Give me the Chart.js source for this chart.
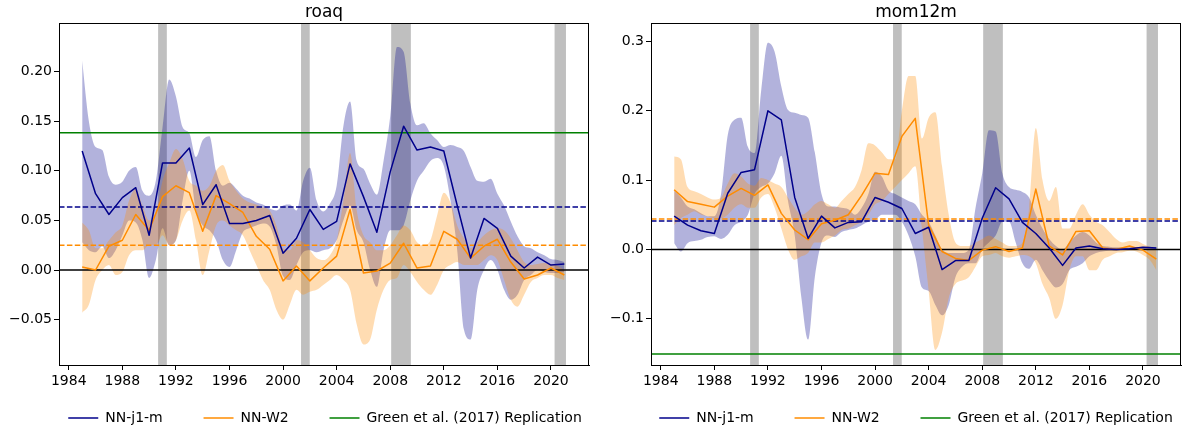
<!DOCTYPE html>
<html>
<head>
    <title>roaq and mom12m</title>
    <script src="https://cdn.jsdelivr.net/npm/chart.js"></script>
    <style>
        body {
            margin: 0;
            background-color: #ffffff;
            overflow: hidden;
        }
        .page {
            position: relative;
            width: 1184px;
            height: 432px;
            overflow: hidden;
        }
        .panel {
            position: absolute;
            top: 0;
            height: 432px;
        }
    </style>
</head>
<body>
    <div class="page">
        <div class="panel" style="left: 0px;"><canvas id="roaqChart" width="650" height="432"></canvas></div>
        <div class="panel" style="left: 592px;"><canvas id="momChart" width="648" height="432"></canvas></div>
    </div>

    <script>
        // yearly points of the two model lines
        const years = [1985, 1986, 1987, 1988, 1989, 1990, 1991, 1992, 1993, 1994,
            1995, 1996, 1997, 1998, 1999, 2000, 2001, 2002, 2003, 2004,
            2005, 2006, 2007, 2008, 2009, 2010, 2011, 2012, 2013, 2014,
            2015, 2016, 2017, 2018, 2019, 2020, 2021];

        // half-year points of the shaded bands
        const bandYears = [1985, 1985.5, 1986, 1986.5, 1987, 1987.5, 1988, 1988.5, 1989, 1989.5,
            1990, 1990.5, 1991, 1991.5, 1992, 1992.5, 1993, 1993.5, 1994, 1994.5,
            1995, 1995.5, 1996, 1996.5, 1997, 1997.5, 1998, 1998.5, 1999, 1999.5,
            2000, 2000.5, 2001, 2001.5, 2002, 2002.5, 2003, 2003.5, 2004, 2004.5,
            2005, 2005.5, 2006, 2006.5, 2007, 2007.5, 2008, 2008.5, 2009, 2009.5,
            2010, 2010.5, 2011, 2011.5, 2012, 2012.5, 2013, 2013.5, 2014, 2014.5,
            2015, 2015.5, 2016, 2016.5, 2017, 2017.5, 2018, 2018.5, 2019, 2019.5,
            2020, 2020.5, 2021];

        const xTicks = [1984, 1988, 1992, 1996, 2000, 2004, 2008, 2012, 2016, 2020];
        const X_MIN = 1983.27;
        const X_MAX = 2022.84;

        // recession periods (grey bars)
        const recessionStart = [1990.67, 2001.34, 2008.07, 2020.27];
        const recessionEnd = [1991.32, 2001.99, 2009.54, 2021.12];

        // ---- roaq ----
        const roaqJ1 = [0.120, 0.077, 0.056, 0.073, 0.083, 0.035, 0.108, 0.108, 0.123, 0.066,
            0.086, 0.047, 0.047, 0.050, 0.055, 0.017, 0.032, 0.061, 0.041, 0.049,
            0.107, 0.074, 0.038, 0.099, 0.145, 0.121, 0.124, 0.120, 0.065, 0.012,
            0.052, 0.042, 0.014, 0.002, 0.013, 0.005, 0.006];
        const roaqW2 = [0.003, 0.000, 0.024, 0.030, 0.056, 0.040, 0.074, 0.085, 0.078, 0.039,
            0.075, 0.067, 0.058, 0.034, 0.021, -0.011, 0.004, -0.011, 0.002, 0.014,
            0.061, -0.003, -0.001, 0.007, 0.027, 0.002, 0.004, 0.039, 0.031, 0.012,
            0.024, 0.031, 0.008, -0.009, -0.005, 0.002, -0.005];
        const roaqJ1Upper = [0.211, 0.150, 0.124, 0.121, 0.094, 0.086, 0.089, 0.100, 0.104, 0.080,
            0.075, 0.090, 0.144, 0.192, 0.175, 0.144, 0.138, 0.114, 0.131, 0.135,
            0.100, 0.085, 0.088, 0.082, 0.075, 0.072, 0.068, 0.066, 0.062, 0.060,
            0.065, 0.066, 0.060, 0.090, 0.103, 0.070, 0.059, 0.067, 0.085, 0.145,
            0.170, 0.110, 0.102, 0.087, 0.076, 0.110, 0.155, 0.225, 0.220, 0.168,
            0.146, 0.148, 0.138, 0.131, 0.124, 0.126, 0.124, 0.120, 0.104, 0.090,
            0.089, 0.092, 0.077, 0.065, 0.049, 0.034, 0.024, 0.022, 0.018, 0.015,
            0.011, 0.010, 0.008];
        const roaqJ1Lower = [0.028, 0.020, 0.018, 0.024, 0.012, 0.020, 0.035, 0.050, 0.048, 0.030,
            -0.008, 0.010, 0.042, 0.025, 0.030, 0.070, 0.100, 0.060, 0.045, 0.040,
            0.030, 0.010, 0.003, 0.020, 0.038, 0.042, 0.045, 0.047, 0.044, 0.025,
            -0.006, -0.010, 0.005, 0.018, 0.020, 0.018, 0.020, 0.022, 0.030, 0.050,
            0.065, 0.040, 0.028, 0.000, -0.017, 0.020, 0.040, 0.040, 0.045, 0.070,
            0.090, 0.100, 0.110, 0.113, 0.105, 0.070, 0.020, -0.060, -0.070, -0.020,
            0.000, 0.010, 0.000, -0.020, -0.030, -0.025, -0.010, -0.005, 0.000, -0.002,
            -0.003, -0.003, -0.002];
        const roaqW2Upper = [0.048, 0.040, 0.022, 0.022, 0.030, 0.038, 0.045, 0.070, 0.082, 0.065,
            0.050, 0.058, 0.090, 0.108, 0.122, 0.112, 0.090, 0.085, 0.080, 0.085,
            0.100, 0.106, 0.090, 0.080, 0.072, 0.068, 0.066, 0.063, 0.060, 0.045,
            0.022, 0.020, 0.030, 0.028, 0.020, 0.012, 0.010, 0.015, 0.030, 0.070,
            0.118, 0.060, 0.035, 0.028, 0.020, 0.020, 0.025, 0.035, 0.045, 0.040,
            0.028, 0.025, 0.030, 0.055, 0.078, 0.068, 0.045, 0.032, 0.022, 0.028,
            0.035, 0.040, 0.042, 0.040, 0.032, 0.020, 0.008, 0.005, 0.006, 0.007,
            0.006, 0.004, 0.000];
        const roaqW2Lower = [-0.043, -0.035, -0.010, 0.000, 0.005, -0.005, -0.002, 0.015, 0.020, 0.020,
            0.025, 0.025, 0.035, 0.025, 0.030, 0.050, 0.060, 0.030, -0.005, 0.020,
            0.045, 0.050, 0.045, 0.040, 0.035, 0.020, 0.005, -0.010, -0.020, -0.040,
            -0.050, -0.035, -0.020, -0.025, -0.022, -0.020, -0.015, -0.010, -0.005, -0.010,
            -0.020, -0.055, -0.075, -0.070, -0.040, -0.020, -0.010, -0.008, 0.005, -0.002,
            -0.012, -0.020, -0.025, -0.015, 0.000, 0.005, 0.008, 0.005, 0.005, 0.005,
            0.010, 0.015, 0.010, -0.010, -0.030, -0.037, -0.025, -0.012, -0.008, -0.005,
            -0.005, -0.008, -0.010];
        const roaqYTicks = [-0.05, 0.00, 0.05, 0.10, 0.15, 0.20];

        // ---- mom12m ----
        const momJ1 = [0.048, 0.035, 0.027, 0.023, 0.081, 0.111, 0.115, 0.200, 0.187, 0.075,
            0.016, 0.048, 0.031, 0.039, 0.040, 0.075, 0.068, 0.059, 0.023, 0.032,
            -0.029, -0.016, -0.016, 0.045, 0.089, 0.073, 0.039, 0.023, 0.002, -0.023,
            0.002, 0.005, 0.001, 0.000, 0.001, 0.003, 0.002];
        const momW2 = [0.086, 0.069, 0.065, 0.061, 0.077, 0.088, 0.078, 0.093, 0.052, 0.028,
            0.014, 0.037, 0.042, 0.050, 0.078, 0.110, 0.108, 0.163, 0.189, 0.035,
            -0.003, -0.013, -0.016, -0.001, 0.004, -0.003, 0.002, 0.087, 0.005, -0.008,
            0.026, 0.027, 0.002, 0.000, 0.005, -0.001, -0.014];
        const momJ1Upper = [0.085, 0.075, 0.062, 0.058, 0.052, 0.048, 0.048, 0.080, 0.165, 0.187,
            0.190, 0.148, 0.139, 0.230, 0.298, 0.285, 0.235, 0.201, 0.197, 0.194,
            0.190, 0.140, 0.080, 0.062, 0.062, 0.060, 0.058, 0.050, 0.060, 0.080,
            0.112, 0.105, 0.085, 0.080, 0.075, 0.070, 0.065, 0.050, 0.040, 0.020,
            0.000, -0.005, -0.005, -0.005, 0.000, 0.060, 0.110, 0.172, 0.170, 0.110,
            0.090, 0.086, 0.083, 0.075, 0.050, 0.030, 0.015, 0.005, 0.000, 0.010,
            0.020, 0.025, 0.020, 0.010, 0.005, 0.004, 0.003, 0.003, 0.003, 0.003,
            0.004, 0.004, 0.003];
        const momJ1Lower = [0.009, -0.003, 0.009, 0.012, 0.014, 0.018, 0.019, 0.015, 0.021, 0.035,
            0.040, 0.050, 0.080, 0.090, 0.095, 0.110, 0.135, 0.070, 0.020, -0.070,
            -0.130, -0.040, 0.010, 0.020, 0.018, 0.025, 0.028, 0.030, 0.035, 0.040,
            0.042, 0.050, 0.050, 0.050, 0.040, 0.020, -0.010, -0.055, -0.060, -0.080,
            -0.095, -0.080, -0.040, -0.025, -0.020, -0.020, 0.000, 0.010, 0.020, 0.040,
            0.040, 0.010, -0.020, -0.028, -0.015, -0.030, -0.045, -0.055, -0.050, -0.030,
            -0.025, -0.020, -0.010, -0.005, -0.003, -0.002, -0.002, -0.001, -0.001, 0.000,
            0.000, 0.000, 0.000];
        const momW2Upper = [0.134, 0.130, 0.090, 0.084, 0.080, 0.075, 0.072, 0.075, 0.095, 0.110,
            0.105, 0.095, 0.092, 0.103, 0.100, 0.095, 0.090, 0.075, 0.060, 0.050,
            0.055, 0.065, 0.070, 0.065, 0.060, 0.070, 0.080, 0.090, 0.115, 0.153,
            0.150, 0.140, 0.130, 0.130, 0.200, 0.250, 0.250, 0.160, 0.190, 0.198,
            0.120, 0.050, 0.010, 0.005, 0.005, 0.010, 0.015, 0.020, 0.015, 0.010,
            0.005, 0.005, 0.010, 0.060, 0.175, 0.100, 0.070, 0.090, 0.030, 0.030,
            0.050, 0.065, 0.050, 0.040, 0.035, 0.025, 0.015, 0.010, 0.012, 0.012,
            0.008, 0.004, 0.000];
        const momW2Lower = [0.035, 0.045, 0.050, 0.055, 0.050, 0.048, 0.045, 0.045, 0.050, 0.060,
            0.065, 0.060, 0.060, 0.075, 0.080, 0.060, 0.030, 0.000, -0.015, -0.010,
            -0.005, 0.010, 0.010, 0.015, 0.020, 0.028, 0.030, 0.035, 0.040, 0.050,
            0.065, 0.070, 0.080, 0.090, 0.100, 0.110, 0.120, 0.030, -0.060, -0.145,
            -0.120, -0.070, -0.050, -0.045, -0.040, -0.025, -0.010, -0.008, -0.005, -0.010,
            -0.012, -0.010, -0.008, -0.010, -0.020, -0.050, -0.070, -0.100, -0.080, -0.030,
            -0.010, -0.010, -0.030, -0.030, -0.015, -0.010, -0.005, -0.004, -0.002, -0.003,
            -0.008, -0.015, -0.030];
        const momYTicks = [-0.1, 0.0, 0.1, 0.2, 0.3];

        const BLUE = '#00008b';
        const ORANGE = '#ff8c00';
        const GREEN = '#008000';

        Chart.defaults.font.family = "'DejaVu Sans', sans-serif";
        Chart.defaults.font.size = 14;
        Chart.defaults.color = '#000000';
        Chart.defaults.elements.point.radius = 0;

        function xy(xs, ys) {
            return xs.map((x, i) => ({ x: x, y: ys[i] }));
        }

        function flat(v) {
            return [{ x: X_MIN, y: v }, { x: X_MAX, y: v }];
        }

        function tickText(v, decimals) {
            const s = (Math.abs(v) < 1e-9 ? 0 : v).toFixed(decimals);
            return s.replace('-', '\u2212');
        }

        // only the three named lines go in the legend; trailing spaces widen the gaps
        function legendLabels(chart) {
            const items = Chart.defaults.plugins.legend.labels.generateLabels(chart)
                .filter(item => chart.data.datasets[item.datasetIndex].inLegend);
            items.forEach((item, i) => {
                if (i < items.length - 1) item.text += '    ';
            });
            return items;
        }

        const recessionBars = {
            id: 'recessionBars',
            beforeDatasetsDraw(chart) {
                const { ctx, chartArea, scales } = chart;
                ctx.save();
                ctx.fillStyle = 'rgba(128, 128, 128, 0.5)';
                recessionStart.forEach((start, i) => {
                    const x0 = scales.x.getPixelForValue(start);
                    const x1 = scales.x.getPixelForValue(recessionEnd[i]);
                    ctx.fillRect(x0, chartArea.top, x1 - x0, chartArea.bottom - chartArea.top);
                });
                ctx.restore();
            }
        };

        const frame = {
            id: 'frame',
            afterDraw(chart) {
                const { ctx, chartArea } = chart;
                ctx.save();
                ctx.strokeStyle = '#000000';
                ctx.lineWidth = 1;
                ctx.strokeRect(Math.round(chartArea.left) + 0.5, Math.round(chartArea.top) + 0.5,
                    Math.round(chartArea.right - chartArea.left) - 1, Math.round(chartArea.bottom - chartArea.top));
                ctx.restore();
            }
        };

        // yAxisWidth / rightSpace put the plot area where the picture has it;
        // the empty right-hand axis keeps the legend centred under the plot
        function makeChart(canvasId, p) {
            const line = { borderWidth: 1.5, borderJoinStyle: 'round', fill: false };
            const band = { borderWidth: 0, cubicInterpolationMode: 'monotone' };
            const datasets = [
                Object.assign({ label: 'NN-j1-m', data: xy(years, p.j1), borderColor: BLUE, order: 0, inLegend: true }, line),
                Object.assign({ label: 'NN-W2', data: xy(years, p.w2), borderColor: ORANGE, order: 0, inLegend: true }, line),
                Object.assign({ label: 'Green et al. (2017) Replication', data: flat(p.green), borderColor: GREEN, order: 1, inLegend: true }, line),
                Object.assign({ label: 'zero', data: flat(0), borderColor: '#000000', order: 1 }, line),
                Object.assign({ label: 'NN-j1-m mean', data: flat(p.j1Mean), borderColor: BLUE, borderDash: [5.5, 2.4], order: 1 }, line),
                Object.assign({ label: 'NN-W2 mean', data: flat(p.w2Mean), borderColor: ORANGE, borderDash: [5.5, 2.4], order: 1 }, line),
                Object.assign({ label: 'NN-j1-m low', data: xy(bandYears, p.j1Lo), fill: false, order: 3 }, band),
                Object.assign({ label: 'NN-j1-m high', data: xy(bandYears, p.j1Hi), fill: '-1', backgroundColor: 'rgba(0, 0, 139, 0.3)', order: 3 }, band),
                Object.assign({ label: 'NN-W2 low', data: xy(bandYears, p.w2Lo), fill: false, order: 2 }, band),
                Object.assign({ label: 'NN-W2 high', data: xy(bandYears, p.w2Hi), fill: '-1', backgroundColor: 'rgba(255, 140, 0, 0.3)', order: 2 }, band)
            ];

            const axisLook = {
                grid: { drawOnChartArea: false, color: '#000000', tickLength: 5 },
                border: { color: '#000000', width: 1 }
            };

            return new Chart(document.getElementById(canvasId), {
                type: 'line',
                data: { datasets: datasets },
                options: {
                    animation: false,
                    responsive: false,
                    devicePixelRatio: 1,
                    layout: { padding: { left: 0, right: 0, top: 0, bottom: -3 } },
                    plugins: {
                        title: {
                            display: true,
                            text: p.title,
                            fullSize: false,
                            font: { size: 17, weight: 'normal' },
                            padding: { top: 2, bottom: 1 }
                        },
                        legend: {
                            position: 'bottom',
                            labels: {
                                usePointStyle: true,
                                pointStyle: 'line',
                                pointStyleWidth: 30,
                                padding: 23,
                                generateLabels: legendLabels
                            }
                        },
                        tooltip: { enabled: false }
                    },
                    scales: {
                        x: Object.assign({
                            type: 'linear',
                            min: X_MIN,
                            max: X_MAX,
                            afterBuildTicks: axis => { axis.ticks = xTicks.map(v => ({ value: v })); },
                            afterFit: axis => { axis.height = 23; },
                            ticks: { callback: v => String(v), padding: 3, maxRotation: 0, autoSkip: false }
                        }, axisLook),
                        y: Object.assign({
                            type: 'linear',
                            min: p.yMin,
                            max: p.yMax,
                            afterBuildTicks: axis => { axis.ticks = p.yTicks.map(v => ({ value: v })); },
                            afterFit: axis => { axis.width = p.yAxisWidth; },
                            ticks: { callback: v => tickText(v, p.decimals), padding: 2 }
                        }, axisLook),
                        spacer: {
                            type: 'linear',
                            position: 'right',
                            min: 0,
                            max: 1,
                            ticks: { display: false },
                            grid: { display: false },
                            border: { display: false },
                            afterFit: axis => { axis.width = p.rightSpace; }
                        }
                    }
                },
                plugins: [recessionBars, frame]
            });
        }

        makeChart('roaqChart', {
            title: 'roaq',
            j1: roaqJ1, w2: roaqW2,
            j1Hi: roaqJ1Upper, j1Lo: roaqJ1Lower,
            w2Hi: roaqW2Upper, w2Lo: roaqW2Lower,
            green: 0.1384, j1Mean: 0.0635, w2Mean: 0.0249,
            yMin: -0.0958, yMax: 0.2487, yTicks: roaqYTicks, decimals: 2,
            yAxisWidth: 59, rightSpace: 61
        });

        makeChart('momChart', {
            title: 'mom12m',
            j1: momJ1, w2: momW2,
            j1Hi: momJ1Upper, j1Lo: momJ1Lower,
            w2Hi: momW2Upper, w2Lo: momW2Lower,
            green: -0.151, j1Mean: 0.041, w2Mean: 0.044,
            yMin: -0.1667, yMax: 0.326, yTicks: momYTicks, decimals: 1,
            yAxisWidth: 59, rightSpace: 59
        });
    </script>
</body>
</html>
